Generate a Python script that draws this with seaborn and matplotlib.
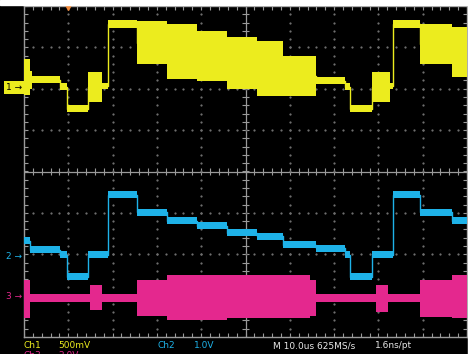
import numpy as np
import pandas as pd
import seaborn as sns
from matplotlib import pyplot as plt
from matplotlib.patches import Rectangle

# time axis in us (10 us/div), levels in screen divisions
yel_edges = [0, 1.4, 1.8, 8.1, 9.7, 14.5, 17.6, 19.0, 25.5, 32.3, 39.1, 45.8,
             52.6, 58.5, 65.9, 72.5, 73.6, 78.6, 82.6, 83.3, 89.4, 96.6, 100]
yel_lo = [1.86, 1.99, 2.13, 1.96, 1.43, 1.67, 1.99, 3.46, 2.59, 2.23, 2.18,
          1.99, 1.82, 1.82, 2.11, 1.96, 1.43, 1.67, 1.99, 3.46, 2.59, 2.28]
yel_hi = [2.71, 2.42, 2.30, 2.13, 1.60, 2.40, 2.13, 3.66, 3.63, 3.56, 3.39,
          3.24, 3.15, 2.78, 2.28, 2.13, 1.60, 2.40, 2.13, 3.66, 3.56, 3.49]

blu_edges = [0, 1.4, 8.1, 9.7, 14.5, 19.0, 25.5, 32.3, 39.1, 45.8, 52.6,
             58.5, 65.9, 72.5, 73.6, 78.6, 83.3, 89.4, 96.6, 100]
blu_level = [-1.67, -1.89, -2.01, -2.54, -2.01, -0.56, -0.99, -1.19, -1.31,
             -1.48, -1.57, -1.77, -1.86, -2.01, -2.54, -2.01, -0.56, -0.99, -1.19]
blu_noise = 0.09

mag_edges = [0, 1.4, 14.9, 17.6, 25.5, 32.3, 45.8, 64.6, 65.9, 79.5, 82.2,
             89.4, 96.6, 100]
mag_lo = [-3.54, -3.15, -3.34, -3.15, -3.49, -3.58, -3.54, -3.49, -3.15,
          -3.39, -3.15, -3.51, -3.54]
mag_hi = [-2.62, -2.95, -2.74, -2.95, -2.62, -2.49, -2.49, -2.62, -2.95,
          -2.74, -2.95, -2.62, -2.49]

markers = {'1': 2.03, '2': -2.06, '3': -3.03}

YEL = '#ecec1e'
BLU = '#1eb2e8'
MAG = '#e4288e'
GRID = '#9a9a9a'
DOT = '#6e6e6e'

sns.set_theme(style='dark', rc={'axes.facecolor': 'black', 'figure.facecolor': 'black'})
plt.rcParams['font.family'] = ['DejaVu Sans']

W, H = 471, 354
fig = plt.figure(figsize=(W / 100, H / 100), dpi=100)
ax = fig.add_axes([24 / W, 17 / H, 443 / W, 331 / H])
ax.set_facecolor('black')


def px(x, y):
    return x / W, 1 - y / H


# graticule
ax.set_xlim(0, 100)
ax.set_ylim(-4, 4)
ax.set_xticks([])
ax.set_yticks([])
ax.grid(False)
for s in ax.spines.values():
    s.set_color(GRID)
    s.set_linewidth(1)
ax.axvline(50, color=GRID, lw=0.9, zorder=1)
ax.axhline(0, color=GRID, lw=0.9, zorder=1)
tx = np.arange(0, 100.1, 2)
ty = np.arange(-4, 4.01, 0.2)
ax.vlines(tx, -0.08, 0.08, color=GRID, lw=0.8, zorder=1)
ax.hlines(ty, 49.2, 50.8, color=GRID, lw=0.8, zorder=1)
ax.vlines(tx, 3.9, 4, color=GRID, lw=0.8, zorder=1)
ax.vlines(tx, -4, -3.9, color=GRID, lw=0.8, zorder=1)
ax.hlines(ty, 0, 0.9, color=GRID, lw=0.8, zorder=1)
ax.hlines(ty, 99.1, 100, color=GRID, lw=0.8, zorder=1)
for gx in range(10, 100, 10):
    if gx != 50:
        ax.plot([gx] * len(ty), ty, ls='none', marker='s', ms=0.6, color=DOT, zorder=1)
for gy in range(-3, 4):
    if gy != 0:
        ax.plot(tx, [gy] * len(tx), ls='none', marker='s', ms=0.6, color=DOT, zorder=1)


def band(edges, lo, hi, color):
    mid = [(a + b) / 2 for a, b in zip(lo, hi)]
    df = pd.DataFrame({'t': edges, 'v': mid + [mid[-1]]})
    sns.lineplot(data=df, x='t', y='v', drawstyle='steps-post', color=color,
                 lw=1, ax=ax, zorder=2)
    ax.fill_between(edges, lo + [lo[-1]], hi + [hi[-1]], step='post',
                    color=color, lw=0, zorder=3)


band(yel_edges, yel_lo, yel_hi, YEL)
band(mag_edges, mag_lo, mag_hi, MAG)
band(blu_edges, [v - blu_noise for v in blu_level],
     [v + blu_noise for v in blu_level], BLU)
ax.set_xlabel('')
ax.set_ylabel('')
ax.set_xlim(0, 100)
ax.set_ylim(-4, 4)

# channel markers
tr = ax.get_yaxis_transform()
ax.text(-0.004, markers['1'], '1 \u2192', transform=tr, ha='right', va='center',
        fontsize=6.5, color='black', clip_on=False,
        bbox=dict(boxstyle='square,pad=0.2', fc=YEL, ec='none'))
ax.text(-0.004, markers['2'], '2 \u2192', transform=tr, ha='right', va='center',
        fontsize=6.5, color=BLU, clip_on=False)
ax.text(-0.004, markers['3'], '3 \u2192', transform=tr, ha='right', va='center',
        fontsize=6.5, color=MAG, clip_on=False)

# trigger position marker
ax.plot([10], [4.0], marker='v', ms=6, color='#f08a3c', clip_on=False, zorder=5)

# readouts
labels = [(23, 'Ch1', YEL), (58, '500mV', YEL), (157, 'Ch2', BLU), (194, '1.0V', BLU),
          (273, 'M 10.0us 625MS/s', '#e8e8e8'), (375, '1.6ns/pt', '#e8e8e8')]
for x, s, c in labels:
    fig.text(*px(x, 346), s, color=c, fontsize=6.5, ha='left', va='center')
for x, s in [(23, 'Ch3'), (58, '2.0V')]:
    fig.text(*px(x, 356), s, color=MAG, fontsize=6.5, ha='left', va='center')

# bezel edges
fig.patches.append(Rectangle(px(0, 5), 1, 5 / H, transform=fig.transFigure,
                             color='white', zorder=10))
fig.patches.append(Rectangle(px(468, 354), 3 / W, 1, transform=fig.transFigure,
                             color='white', zorder=10))

fig.savefig('out.png', dpi=100, facecolor='black')
